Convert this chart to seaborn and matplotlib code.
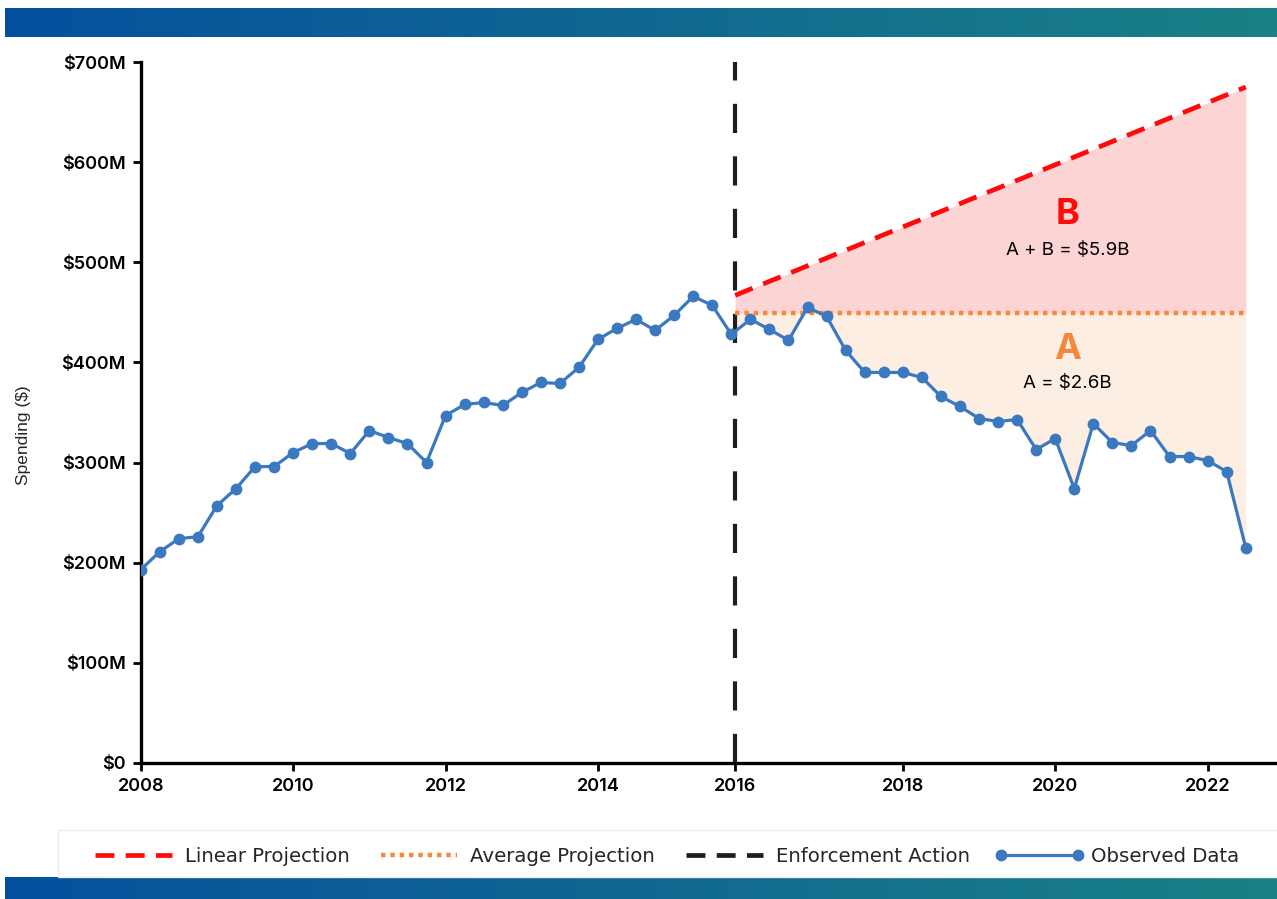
import numpy as np
import pandas as pd
import matplotlib
matplotlib.use("Agg")
import matplotlib.pyplot as plt
from matplotlib.lines import Line2D
from matplotlib.patches import Rectangle
from matplotlib.colors import LinearSegmentedColormap
import seaborn as sns

# ---------------- data ----------------
quarters = pd.period_range("2008Q1", "2022Q3", freq="Q")
spending = [193, 211, 224, 226, 257, 274, 296, 296, 310, 319, 319, 309,
            332, 325, 319, 300, 347, 358, 360, 357, 370, 380, 379, 395,
            423, 434, 443, 432, 447, 466, 457, 428, 443, 433, 422, 455,
            446, 412, 390, 390, 390, 385, 366, 356, 344, 341, 343, 313,
            324, 274, 339, 320, 317, 332, 306, 306, 302, 291, 215]
enforcement_x = 2015.8
proj_x = [2015.8, 2022.5]
linear_proj = [467, 675]
average_proj = [449, 449]
year_ticks = [2008, 2010, 2012, 2014, 2015.8, 2018, 2020, 2022]
year_labels = ["2008", "2010", "2012", "2014", "2016", "2018", "2020", "2022"]
y_ticks = [0, 100, 200, 300, 400, 500, 600, 700]

years = np.array([p.year + (p.quarter - 1) / 4 for p in quarters])
df = pd.DataFrame({"year": years, "spending": spending})

BLUE = "#3a78c0"
RED = "#ff0a0a"
ORANGE = "#f5883a"
BLACK = "#1e1e1e"

sns.set_theme(style="white")
plt.rcParams["font.family"] = ["Inter", "DejaVu Sans"]

fig = plt.figure(figsize=(12.77, 8.99), dpi=100)
ax = fig.add_axes([0.1102, 0.1513, 0.888, 0.7797])

# fills
fx = np.linspace(proj_x[0], proj_x[1], 400)
lin = np.interp(fx, proj_x, linear_proj)
avg = np.interp(fx, proj_x, average_proj)
obs = np.interp(fx, df["year"], df["spending"])
ax.fill_between(fx, avg, lin, color="#fdd4d4", lw=0, zorder=1)
ax.fill_between(fx, np.minimum(obs, avg), avg, color="#fdeee3", lw=0, zorder=1)

# enforcement line
ax.axvline(enforcement_x, color=BLACK, lw=3.0, dashes=(7, 5.6), zorder=2)

# projections
sns.lineplot(x=proj_x, y=average_proj, ax=ax, color=ORANGE, lw=3.2,
             linestyle=(0, (1, 1.1)), zorder=3)
sns.lineplot(x=proj_x, y=linear_proj, ax=ax, color=RED, lw=3.4,
             linestyle=(0, (4, 2.4)), zorder=3)

# observed
sns.lineplot(data=df, x="year", y="spending", ax=ax, color=BLUE, lw=2.3,
             marker="o", markersize=8.5, markeredgewidth=0, zorder=4)

# annotations
ax.text(2020.16, 548, "B", color=RED, fontsize=26, fontweight="bold",
        ha="center", va="center")
ax.text(2020.16, 512, "A + B = \\$5.9B", color="black", fontsize=13.5,
        ha="center", va="center")
ax.text(2020.16, 413, "A", color=ORANGE, fontsize=26, fontweight="bold",
        ha="center", va="center")
ax.text(2020.16, 379, "A = \\$2.6B", color="black", fontsize=13.5,
        ha="center", va="center")

# axes styling
ax.set_xlim(2008, 2022.88)
ax.set_ylim(0, 700)
ax.set_xticks(year_ticks)
ax.set_xticklabels(year_labels)
ax.set_yticks(y_ticks)
ax.set_yticklabels(["\\$0" if v == 0 else f"\\${v}M" for v in y_ticks])
for s in ["top", "right"]:
    ax.spines[s].set_visible(False)
for s in ["left", "bottom"]:
    ax.spines[s].set_color("black")
    ax.spines[s].set_linewidth(2.4)
ax.tick_params(axis="both", direction="out", length=6, width=2,
               color="black", labelsize=13, labelcolor="black", pad=5,
               bottom=True, left=True)
for lab in ax.get_xticklabels() + ax.get_yticklabels():
    lab.set_fontweight("semibold")
ax.set_xlabel("")
ax.set_ylabel("Spending (\\$)", fontsize=12.5, family=["Liberation Sans", "DejaVu Sans"])
ax.yaxis.set_label_coords(-0.097, 0.468)
ax.grid(False)
ax.set_facecolor("none")

# legend
handles = [
    Line2D([], [], color=RED, lw=3.4, linestyle=(0, (4, 2.4))),
    Line2D([], [], color=ORANGE, lw=3.2, linestyle=(0, (1, 1.1))),
    Line2D([], [], color=BLACK, lw=3.4, linestyle=(0, (4, 2.4))),
    Line2D([], [], color=BLUE, lw=2.3, marker="o", markersize=8.5, markeredgewidth=0),
]
labels = ["Linear Projection", "Average Projection", "Enforcement Action", "Observed Data"]
fig.patches.append(Rectangle((58 / 1277, 0.0245), 1.0, 0.0523, transform=fig.transFigure,
                             facecolor="white", edgecolor="#eeeeee", lw=1, zorder=0))
leg = fig.legend(handles, labels, loc="center left",
                 bbox_to_anchor=(89 / 1277, 1 - 856 / 899),
                 ncol=4, frameon=False, handlelength=4.5, numpoints=2,
                 handletextpad=0.36, columnspacing=1.27, borderpad=0, borderaxespad=0,
                 prop={"family": ["DejaVu Sans"], "size": 14.2})

# gradient bars
cmap = LinearSegmentedColormap.from_list("bar", ["#05509e", "#1a8185"])
grad = np.linspace(0, 1, 256).reshape(1, -1)
for rect in ([0.004, 0.959, 0.996, 0.032], [0.004, 0.0, 0.996, 0.025]):
    bax = fig.add_axes(rect)
    bax.imshow(grad, aspect="auto", cmap=cmap)
    bax.set_axis_off()

fig.savefig("out.png", dpi=100)
